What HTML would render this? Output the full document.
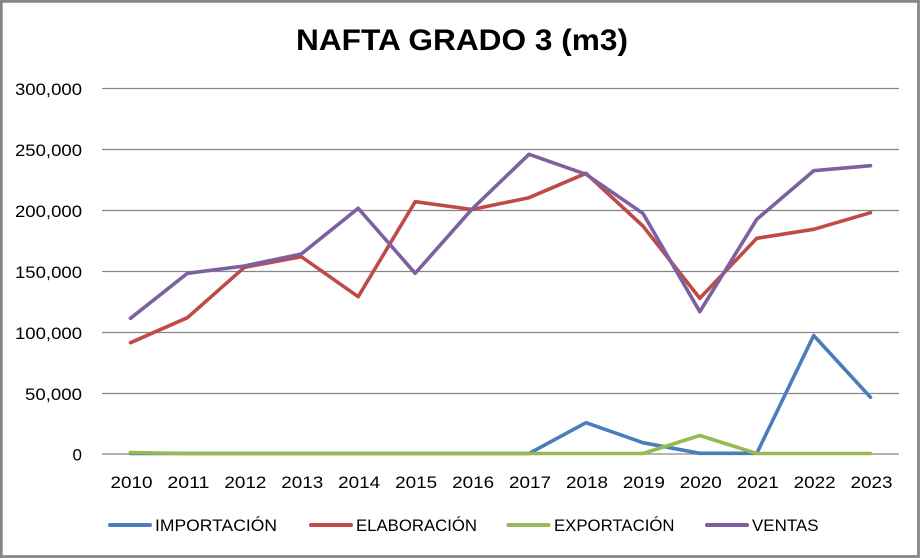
<!DOCTYPE html>
<html><head><meta charset="utf-8"><style>
html,body{margin:0;padding:0;background:#fff;width:922px;height:558px;overflow:hidden;}
svg{display:block;}
text{font-family:"Liberation Sans",Arial,sans-serif;fill:#000;}
</style></head><body>
<svg width="922" height="558" viewBox="0 0 922 558" xmlns="http://www.w3.org/2000/svg">
<rect x="0" y="0" width="922" height="558" fill="#fff"/>
<path d="M1.3 558 V1.3 H918.5 V556.5 H1.3" fill="none" stroke="#868686" stroke-width="2.8"/>
<text x="462" y="50" text-anchor="middle" font-size="30" font-weight="bold" textLength="332" lengthAdjust="spacingAndGlyphs">NAFTA GRADO 3 (m3)</text>
<g stroke="#868686" stroke-width="1.3">
<line x1="102" y1="88.5" x2="899" y2="88.5"/>
<line x1="102" y1="149.5" x2="899" y2="149.5"/>
<line x1="102" y1="210.5" x2="899" y2="210.5"/>
<line x1="102" y1="271.5" x2="899" y2="271.5"/>
<line x1="102" y1="332.5" x2="899" y2="332.5"/>
<line x1="102" y1="393.5" x2="899" y2="393.5"/>
<line x1="102" y1="454" x2="899" y2="454"/>
</g>
<g font-size="17" text-anchor="end">
<text x="82" y="95" textLength="67" lengthAdjust="spacingAndGlyphs">300,000</text>
<text x="82" y="156" textLength="67" lengthAdjust="spacingAndGlyphs">250,000</text>
<text x="82" y="217" textLength="67" lengthAdjust="spacingAndGlyphs">200,000</text>
<text x="82" y="278" textLength="67" lengthAdjust="spacingAndGlyphs">150,000</text>
<text x="82" y="339" textLength="67" lengthAdjust="spacingAndGlyphs">100,000</text>
<text x="82" y="400" textLength="57" lengthAdjust="spacingAndGlyphs">50,000</text>
<text x="82" y="460.5">0</text>
</g>
<g font-size="17" text-anchor="middle">
<text x="131.5" y="488" textLength="42" lengthAdjust="spacingAndGlyphs">2010</text>
<text x="188.4" y="488" textLength="42" lengthAdjust="spacingAndGlyphs">2011</text>
<text x="245.4" y="488" textLength="42" lengthAdjust="spacingAndGlyphs">2012</text>
<text x="302.3" y="488" textLength="42" lengthAdjust="spacingAndGlyphs">2013</text>
<text x="359.2" y="488" textLength="42" lengthAdjust="spacingAndGlyphs">2014</text>
<text x="416.2" y="488" textLength="42" lengthAdjust="spacingAndGlyphs">2015</text>
<text x="473.1" y="488" textLength="42" lengthAdjust="spacingAndGlyphs">2016</text>
<text x="530" y="488" textLength="42" lengthAdjust="spacingAndGlyphs">2017</text>
<text x="587" y="488" textLength="42" lengthAdjust="spacingAndGlyphs">2018</text>
<text x="643.9" y="488" textLength="42" lengthAdjust="spacingAndGlyphs">2019</text>
<text x="700.8" y="488" textLength="42" lengthAdjust="spacingAndGlyphs">2020</text>
<text x="757.8" y="488" textLength="42" lengthAdjust="spacingAndGlyphs">2021</text>
<text x="814.7" y="488" textLength="42" lengthAdjust="spacingAndGlyphs">2022</text>
<text x="871.5" y="488" textLength="42" lengthAdjust="spacingAndGlyphs">2023</text>
</g>
<g fill="none" stroke-width="3.6" stroke-linejoin="round" stroke-linecap="round">
<polyline stroke="#BE4B48" points="130.5,342.7 187.4,317.7 244.4,267.3 301.3,256.7 358.2,296.7 415.2,201.7 472.1,209.5 529,197.7 586,173.3 642.9,226 699.8,298.3 756.8,238.3 813.7,229.3 870.5,212.7"/>
<polyline stroke="#7D60A0" points="130.5,318.3 187.4,273.3 244.4,266 301.3,254 358.2,208.3 415.2,273.3 472.1,209 529,154.3 586,174.3 642.9,213.3 699.8,311.7 756.8,219.3 813.7,170.7 870.5,165.7"/>
<polyline stroke="#4A7EBB" points="130.5,453.5 187.4,453.5 244.4,453.5 301.3,453.5 358.2,453.5 415.2,453.5 472.1,453.5 529,453.5 586,422.7 642.9,442.7 699.8,453.3 756.8,453.3 813.7,335.5 870.5,397.3"/>
<polyline stroke="#98B954" points="130.5,452.6 187.4,453.5 244.4,453.5 301.3,453.5 358.2,453.5 415.2,453.5 472.1,453.5 529,453.5 586,453.5 642.9,453.5 699.8,435.5 756.8,453.5 813.7,453.5 870.5,453.5"/>
</g>
<g stroke-width="4" stroke-linecap="round">
<line x1="110" y1="525" x2="150" y2="525" stroke="#4A7EBB"/>
<line x1="311" y1="525" x2="351" y2="525" stroke="#BE4B48"/>
<line x1="508.5" y1="525" x2="548.5" y2="525" stroke="#98B954"/>
<line x1="707" y1="525" x2="747" y2="525" stroke="#7D60A0"/>
</g>
<g font-size="17">
<text x="155" y="531" textLength="122" lengthAdjust="spacingAndGlyphs">IMPORTACIÓN</text>
<text x="356" y="531" textLength="121" lengthAdjust="spacingAndGlyphs">ELABORACIÓN</text>
<text x="554" y="531" textLength="120.5" lengthAdjust="spacingAndGlyphs">EXPORTACIÓN</text>
<text x="752" y="531" textLength="66.5" lengthAdjust="spacingAndGlyphs">VENTAS</text>
</g>
</svg>
</body></html>
